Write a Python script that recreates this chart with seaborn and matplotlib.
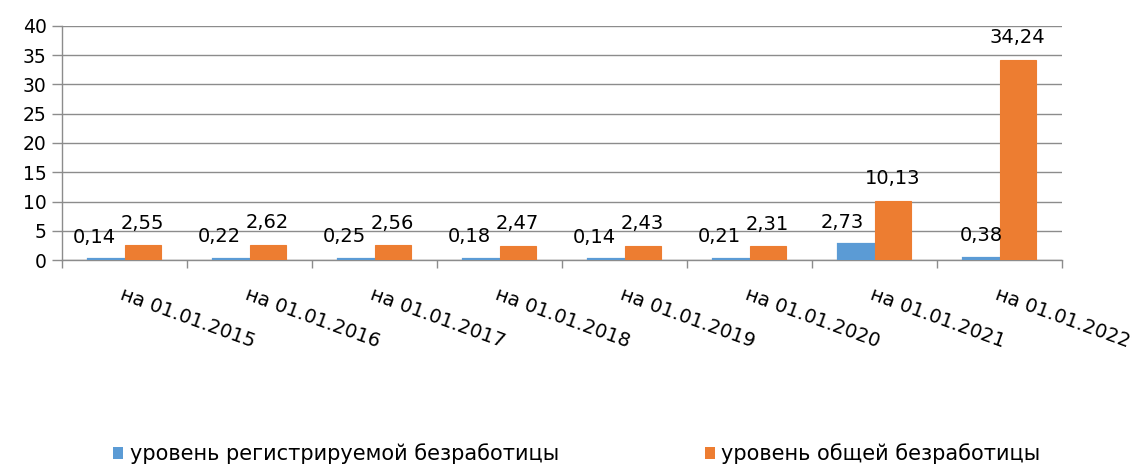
import matplotlib
matplotlib.use("Agg")
import matplotlib.pyplot as plt
import seaborn as sns
import pandas as pd
import numpy as np
from matplotlib.patches import Patch
from matplotlib.transforms import ScaledTranslation

categories = ["на 01.01.2015", "на 01.01.2016", "на 01.01.2017", "на 01.01.2018",
              "на 01.01.2019", "на 01.01.2020", "на 01.01.2021", "на 01.01.2022"]
registered = [0.14, 0.22, 0.25, 0.18, 0.14, 0.21, 2.73, 0.38]
total = [2.55, 2.62, 2.56, 2.47, 2.43, 2.31, 10.13, 34.24]
series_names = ["уровень регистрируемой безработицы", "уровень общей безработицы"]
reg_labels = ["0,14", "0,22", "0,25", "0,18", "0,14", "0,21", "2,73", "0,38"]
tot_labels = ["2,55", "2,62", "2,56", "2,47", "2,43", "2,31", "10,13", "34,24"]
colors = ["#5B9BD5", "#ED7D31"]

df = pd.DataFrame({
    "cat": categories * 2,
    "val": registered + total,
    "series": [series_names[0]] * len(categories) + [series_names[1]] * len(categories),
})

sns.set_theme(style="white")
plt.rcParams['font.family'] = ['DejaVu Sans']

fig = plt.figure(figsize=(11.38, 4.66), dpi=100)
ax = fig.add_axes([62/1138, 1 - 260/466, 1000/1138, 234/466])

sns.barplot(data=df, x="cat", y="val", hue="series", palette=colors,
            width=0.58, ax=ax, legend=False, linewidth=0, saturation=1)

# outline bars in their own colour so tiny values stay visible
for cont, c, lw in zip(ax.containers, colors, [1.6, 0.8]):
    for bar in cont:
        bar.set_edgecolor(c)
        bar.set_linewidth(lw)
        bar.set_zorder(3)

ax.set_ylim(0, 40)
ax.set_xlim(-0.5, len(categories) - 0.5)
ax.set_yticks(np.arange(0, 41, 5))
ax.set_xlabel("")
ax.set_ylabel("")
ax.grid(axis="y", color="#8c8c8c", linewidth=1.0)
ax.set_axisbelow(True)
for s in ["top", "right"]:
    ax.spines[s].set_visible(False)
for s in ["left", "bottom"]:
    ax.spines[s].set_color("#8c8c8c")
    ax.spines[s].set_linewidth(1.0)
ax.spines["bottom"].set_zorder(2)

ax.tick_params(axis="y", which="major", length=7, color="#8c8c8c", width=1.0,
               labelsize=13.5, labelcolor="black", pad=4, left=True)
ax.set_xticks(np.arange(len(categories)))
ax.set_xticks(np.arange(len(categories) + 1) - 0.5, minor=True)
ax.tick_params(axis="x", which="major", length=0, pad=18, labelsize=14,
               labelcolor="black", bottom=True)
ax.tick_params(axis="x", which="minor", length=6, color="#8c8c8c", width=1.0, bottom=True)
ax.set_xticklabels(categories, rotation=-20, ha="left", rotation_mode="anchor")
for lbl in ax.get_xticklabels():
    lbl.set_transform(lbl.get_transform() + ScaledTranslation(0.0, 0, fig.dpi_scale_trans))

# value labels
reg_dx = [-12, -12, -12, -12, -12, -12, -14, 0]
for i, (bar, txt) in enumerate(zip(ax.containers[0], reg_labels)):
    ax.annotate(txt, (bar.get_x() + bar.get_width() / 2, bar.get_height()),
                xytext=(reg_dx[i], 22), textcoords="offset pixels",
                ha="center", va="center", fontsize=14, color="black")
for bar, txt in zip(ax.containers[1], tot_labels):
    ax.annotate(txt, (bar.get_x() + bar.get_width() / 2, bar.get_height()),
                xytext=(0, 22), textcoords="offset pixels",
                ha="center", va="center", fontsize=14, color="black")

handles = [Patch(facecolor=c, edgecolor="none") for c in colors]
fig.legend(handles, series_names, loc="center left", bbox_to_anchor=(113/1138, 1 - 454/466),
           ncol=2, frameon=False, handlelength=0.5, handleheight=0.5, handletextpad=0.3,
           columnspacing=7.0, prop={"family": ["DejaVu Sans"], "size": 15},
           borderaxespad=0, borderpad=0, labelcolor="black")

fig.savefig("out.png", dpi=100)
